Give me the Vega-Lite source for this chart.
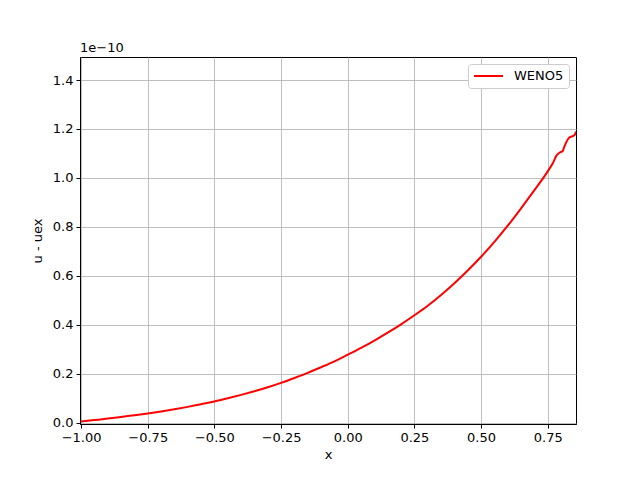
{
  "$schema": "https://vega.github.io/schema/vega-lite/v6.json",
  "width": 496,
  "height": 367,
  "autosize": {"type": "none"},
  "padding": {"left": 80, "top": 57, "right": 64, "bottom": 54},
  "background": "white",
  "config": {
    "font": "DejaVu Sans",
    "view": {"stroke": "black", "strokeWidth": 1},
    "axis": {
      "labelFont": "DejaVu Sans",
      "labelFontSize": 13,
      "labelColor": "black",
      "titleFont": "DejaVu Sans",
      "titleFontSize": 13,
      "titleFontWeight": "normal",
      "titleColor": "black",
      "domainColor": "black",
      "tickColor": "black",
      "tickSize": 4,
      "labelPadding": 3,
      "grid": true,
      "gridColor": "#b0b0b0",
      "gridWidth": 0.8
    }
  },
  "title": {
    "text": "1e\u221210",
    "anchor": "start",
    "frame": "group",
    "font": "DejaVu Sans",
    "fontSize": 13,
    "fontWeight": "normal",
    "color": "black",
    "offset": 2
  },
  "data": {
    "values": [
      {"x": -1.00, "y": 0.005, "s": "WENO5"},
      {"x": -0.95, "y": 0.011, "s": "WENO5"},
      {"x": -0.90, "y": 0.017, "s": "WENO5"},
      {"x": -0.85, "y": 0.024, "s": "WENO5"},
      {"x": -0.80, "y": 0.031, "s": "WENO5"},
      {"x": -0.75, "y": 0.038, "s": "WENO5"},
      {"x": -0.70, "y": 0.046, "s": "WENO5"},
      {"x": -0.65, "y": 0.055, "s": "WENO5"},
      {"x": -0.60, "y": 0.065, "s": "WENO5"},
      {"x": -0.55, "y": 0.076, "s": "WENO5"},
      {"x": -0.50, "y": 0.087, "s": "WENO5"},
      {"x": -0.45, "y": 0.100, "s": "WENO5"},
      {"x": -0.40, "y": 0.114, "s": "WENO5"},
      {"x": -0.35, "y": 0.129, "s": "WENO5"},
      {"x": -0.30, "y": 0.145, "s": "WENO5"},
      {"x": -0.25, "y": 0.163, "s": "WENO5"},
      {"x": -0.20, "y": 0.183, "s": "WENO5"},
      {"x": -0.15, "y": 0.204, "s": "WENO5"},
      {"x": -0.10, "y": 0.227, "s": "WENO5"},
      {"x": -0.05, "y": 0.251, "s": "WENO5"},
      {"x": 0.00, "y": 0.278, "s": "WENO5"},
      {"x": 0.05, "y": 0.306, "s": "WENO5"},
      {"x": 0.10, "y": 0.336, "s": "WENO5"},
      {"x": 0.15, "y": 0.368, "s": "WENO5"},
      {"x": 0.20, "y": 0.402, "s": "WENO5"},
      {"x": 0.25, "y": 0.439, "s": "WENO5"},
      {"x": 0.30, "y": 0.478, "s": "WENO5"},
      {"x": 0.35, "y": 0.522, "s": "WENO5"},
      {"x": 0.40, "y": 0.570, "s": "WENO5"},
      {"x": 0.45, "y": 0.622, "s": "WENO5"},
      {"x": 0.50, "y": 0.678, "s": "WENO5"},
      {"x": 0.55, "y": 0.739, "s": "WENO5"},
      {"x": 0.60, "y": 0.805, "s": "WENO5"},
      {"x": 0.65, "y": 0.876, "s": "WENO5"},
      {"x": 0.70, "y": 0.950, "s": "WENO5"},
      {"x": 0.75, "y": 1.027, "s": "WENO5"},
      {"x": 0.77, "y": 1.062, "s": "WENO5"},
      {"x": 0.782, "y": 1.090, "s": "WENO5"},
      {"x": 0.794, "y": 1.103, "s": "WENO5"},
      {"x": 0.806, "y": 1.110, "s": "WENO5"},
      {"x": 0.813, "y": 1.130, "s": "WENO5"},
      {"x": 0.831, "y": 1.165, "s": "WENO5"},
      {"x": 0.850, "y": 1.174, "s": "WENO5"},
      {"x": 0.856, "y": 1.190, "s": "WENO5"}
    ]
  },
  "mark": {"type": "line", "strokeWidth": 2, "clip": true, "interpolate": "monotone"},
  "encoding": {
    "x": {
      "field": "x",
      "type": "quantitative",
      "title": "x",
      "scale": {"domain": [-1.004, 0.856], "nice": false, "zero": false},
      "axis": {"values": [-1, -0.75, -0.5, -0.25, 0, 0.25, 0.5, 0.75], "format": ".2f", "titlePadding": 4}
    },
    "y": {
      "field": "y",
      "type": "quantitative",
      "title": "u - uex",
      "scale": {"domain": [-0.005, 1.494], "nice": false, "zero": false},
      "axis": {"values": [0, 0.2, 0.4, 0.6, 0.8, 1.0, 1.2, 1.4], "format": ".1f", "titlePadding": 8}
    },
    "color": {
      "field": "s",
      "type": "nominal",
      "scale": {"range": ["#ff0000"]},
      "legend": {
        "title": null,
        "orient": "top-right",
        "offset": 7,
        "symbolType": "stroke",
        "symbolStrokeWidth": 2,
        "symbolSize": 841,
        "clipHeight": 14,
        "labelFont": "DejaVu Sans",
        "labelFontSize": 13,
        "labelColor": "black",
        "labelOffset": 10,
        "strokeColor": "#cccccc",
        "fillColor": "white",
        "cornerRadius": 3,
        "padding": 5
      }
    }
  }
}
